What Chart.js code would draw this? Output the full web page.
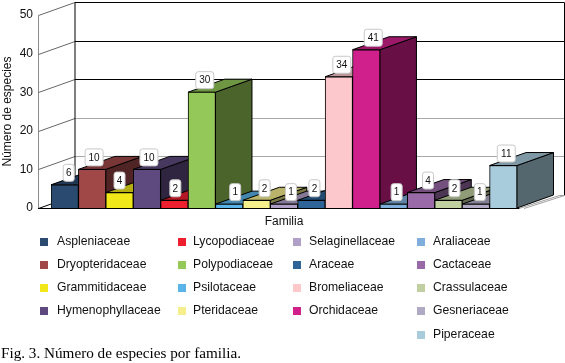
<!DOCTYPE html>
<html>
<head>
<meta charset="utf-8">
<style>
  html, body { margin: 0; padding: 0; background: #fff; }
  canvas { display: block; }
</style>
<script src="https://cdn.jsdelivr.net/npm/chart.js@4"></script>
</head>
<body>
<canvas id="familias" width="565" height="363"></canvas>
<script>
const families = [
  "Aspleniaceae", "Dryopteridaceae", "Grammitidaceae", "Hymenophyllaceae",
  "Lycopodiaceae", "Polypodiaceae", "Psilotaceae", "Pteridaceae",
  "Selaginellaceae", "Araceae", "Bromeliaceae", "Orchidaceae",
  "Araliaceae", "Cactaceae", "Crassulaceae", "Gesneriaceae", "Piperaceae"
];
const speciesCount = [6, 10, 4, 10, 2, 30, 1, 2, 1, 2, 34, 41, 1, 4, 2, 1, 11];
const barColors = [
  "#2a4a70", "#a04848", "#f0e818", "#5f4a80",
  "#ee2030", "#94c858", "#5ab4e8", "#f6f08c",
  "#b0a0c8", "#2f6498", "#fcc8cc", "#d0208c",
  "#80aedc", "#9a6aa8", "#c0d0a0", "#b0aac4", "#a8ccdc"
];
const yTicks = [0, 10, 20, 30, 40, 50];
const captionText = "Fig. 3. Número de especies por familia.";

const DEPTH_X = 36.5, DEPTH_Y = 13;
const SANS = '"Liberation Sans", Arial, sans-serif';

function shade(hex, k) {
  const n = parseInt(hex.slice(1), 16);
  const c = [n >> 16, (n >> 8) & 255, n & 255].map(v => Math.round(v * k));
  return `rgb(${c[0]},${c[1]},${c[2]})`;
}

function line(ctx, x1, y1, x2, y2, color) {
  ctx.strokeStyle = color;
  ctx.lineWidth = 1;
  ctx.beginPath();
  ctx.moveTo(x1, y1);
  ctx.lineTo(x2, y2);
  ctx.stroke();
}

function face(ctx, pts, fill) {
  ctx.fillStyle = fill;
  ctx.strokeStyle = "#000";
  ctx.lineWidth = 1;
  ctx.beginPath();
  pts.forEach((p, i) => i ? ctx.lineTo(p[0], p[1]) : ctx.moveTo(p[0], p[1]));
  ctx.closePath();
  ctx.fill();
  ctx.stroke();
}

// back wall, side wall and floor, placed from the y scale
const wallPlugin = {
  id: "wall",
  beforeDatasetsDraw(chart) {
    const { ctx, scales: { y } } = chart;
    const front = 38.5, back = front + DEPTH_X, right = 564.5;
    const y0 = Math.round(y.getPixelForValue(0)) + 0.5;
    const yTop = Math.round(y.getPixelForValue(50)) + 0.5;
    ctx.save();
    line(ctx, front, yTop, front, y0, "#8c8c8c");
    yTicks.forEach(v => {
      const py = Math.round(y.getPixelForValue(v)) + 0.5;
      const color = v >= 30 ? "#000" : "#a8a8a8";
      line(ctx, front, py, back, py - DEPTH_Y, v === 0 ? "#000" : "#666");
      if (v > 0) line(ctx, back, py - DEPTH_Y, right, py - DEPTH_Y, color);
    });
    line(ctx, back, yTop - DEPTH_Y, back, y0 - DEPTH_Y, "#000");
    line(ctx, right, yTop - DEPTH_Y, right, y0 - DEPTH_Y, "#000");
    line(ctx, 38, y0, 520, y0, "#000");
    line(ctx, 524, y0, right, y0 - DEPTH_Y, "#a0a0a0");
    line(ctx, 519, y0, right - 5, y0 - DEPTH_Y, "#a0a0a0");
    line(ctx, right - 5, y0 - DEPTH_Y, right, y0 - DEPTH_Y, "#a0a0a0");
    ctx.restore();
  }
};

// side and top of every bar, left to right, from the bar elements
const depthPlugin = {
  id: "depth",
  beforeDatasetDraw(chart) {
    const { ctx } = chart;
    ctx.save();
    chart.getDatasetMeta(0).data.forEach((bar, i) => {
      const l = bar.x - bar.width / 2, r = bar.x + bar.width / 2;
      const t = bar.y, b = bar.base;
      face(ctx, [[r, t], [r + DEPTH_X, t - DEPTH_Y], [r + DEPTH_X, b - DEPTH_Y], [r, b]], shade(barColors[i], 0.5));
      face(ctx, [[l, t], [l + DEPTH_X, t - DEPTH_Y], [r + DEPTH_X, t - DEPTH_Y], [r, t]], shade(barColors[i], 0.75));
    });
    ctx.restore();
  }
};

// white value tags above the bars
const tagNudge = [4, 2, 0, 2, 1, 3, 6, 8, 7, 3, 3, 7, 3, 7, 6, 4, 3];
const tagPlugin = {
  id: "tags",
  afterDatasetsDraw(chart) {
    const { ctx } = chart;
    ctx.save();
    ctx.font = "10px " + SANS;
    ctx.textAlign = "center";
    ctx.textBaseline = "middle";
    chart.getDatasetMeta(0).data.forEach((bar, i) => {
      const text = String(speciesCount[i]);
      const w = text.length > 1 ? 18 : 11, h = 17;
      const cx = bar.x + tagNudge[i], cy = bar.y - 12;
      ctx.beginPath();
      ctx.roundRect(cx - w / 2, cy - h / 2, w, h, 2.5);
      ctx.fillStyle = "#fff";
      ctx.fill();
      ctx.strokeStyle = "#c8c8c8";
      ctx.lineWidth = 1;
      ctx.stroke();
      ctx.fillStyle = "#111";
      ctx.fillText(text, cx, cy + 0.5);
    });
    ctx.restore();
  }
};

// four column key plus the figure caption under the chart
const keyColumns = [[40, 57], [178, 193], [293, 309], [417, 433]];
const keyRows = [242, 265, 288, 311, 335];
const keyLayout = [4, 4, 4, 5];
const keyPlugin = {
  id: "key",
  afterDraw(chart) {
    const { ctx } = chart;
    ctx.save();
    ctx.textBaseline = "middle";
    ctx.textAlign = "left";
    ctx.font = "12.2px " + SANS;
    let n = 0;
    keyLayout.forEach((count, c) => {
      for (let r = 0; r < count; r++, n++) {
        ctx.fillStyle = barColors[n];
        ctx.fillRect(keyColumns[c][0], keyRows[r] - 4, 8, 8);
        ctx.fillStyle = "#111";
        ctx.fillText(families[n], keyColumns[c][1], keyRows[r]);
      }
    });
    ctx.font = '15.2px "Liberation Serif", "Times New Roman", serif';
    ctx.fillStyle = "#000";
    ctx.fillText(captionText, 1, 354);
    ctx.restore();
  }
};

new Chart(document.getElementById("familias"), {
  type: "bar",
  data: {
    labels: families,
    datasets: [{
      data: speciesCount,
      backgroundColor: barColors,
      borderColor: "#000",
      borderWidth: 1,
      barPercentage: 1,
      categoryPercentage: 1
    }]
  },
  options: {
    responsive: false,
    animation: false,
    layout: { padding: { left: 0, right: 48, top: 15, bottom: 134 } },
    plugins: { legend: { display: false }, tooltip: { enabled: false } },
    scales: {
      x: {
        grid: { display: false, drawTicks: false },
        border: { display: false },
        ticks: { display: false },
        title: { display: true, text: "Familia", color: "#111", padding: 0, font: { family: SANS, size: 12 } },
        afterFit: s => { s.height = 21; }
      },
      y: {
        min: 0,
        max: 50,
        grid: { display: false, drawTicks: false },
        border: { display: false },
        ticks: { stepSize: 10, padding: 18, color: "#111", font: { family: SANS, size: 12 } },
        title: { display: true, text: "Número de especies", color: "#111", padding: 0, font: { family: SANS, size: 12 } },
        afterFit: s => { s.width = 51; s.paddingTop = 0; s.paddingBottom = 0; }
      }
    }
  },
  plugins: [wallPlugin, depthPlugin, tagPlugin, keyPlugin]
});
</script>
</body>
</html>
